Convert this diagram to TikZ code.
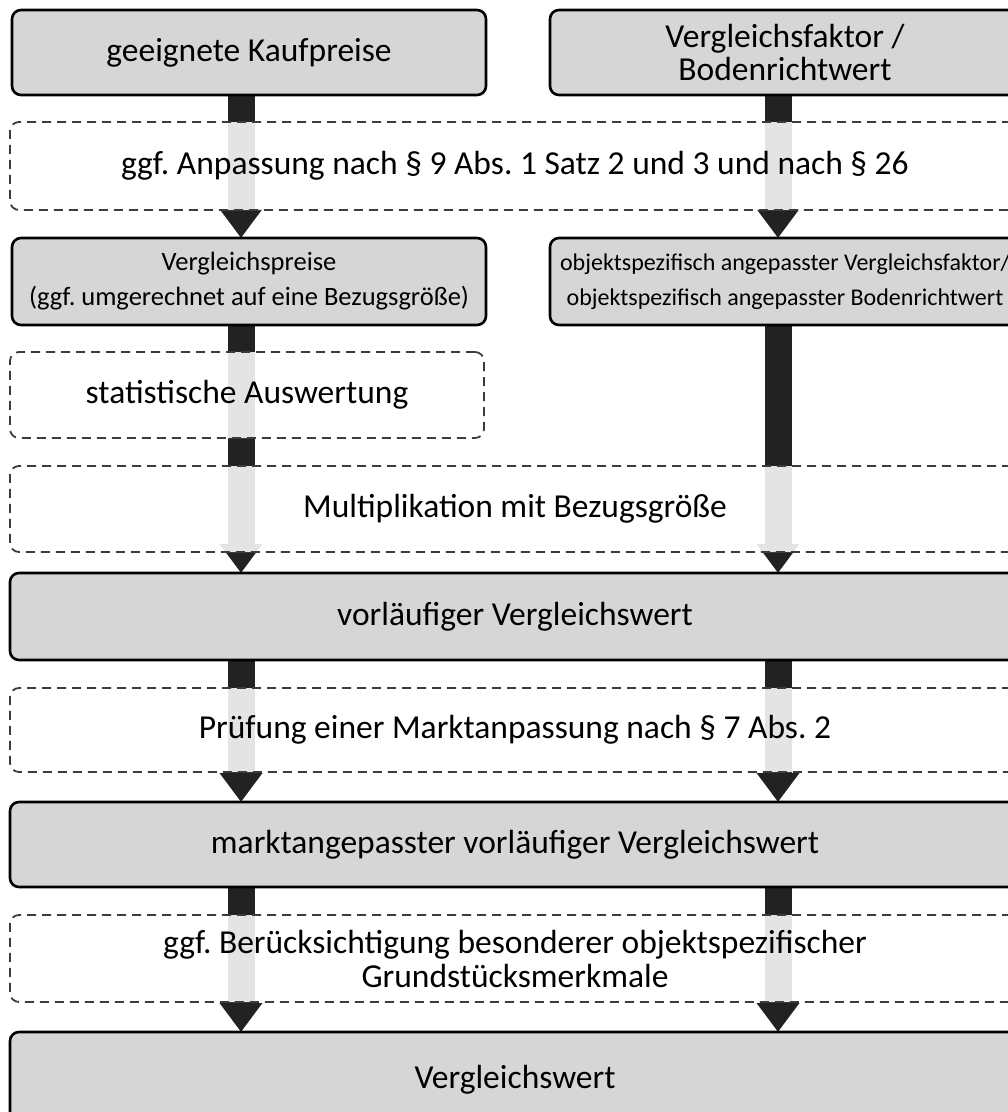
\documentclass[tikz,border=0pt]{standalone}
\usepackage{fontspec}
\setmainfont{Carlito}
\usetikzlibrary{positioning,arrows.meta,backgrounds}
\definecolor{boxgray}{RGB}{214,214,214}
\definecolor{dashgray}{RGB}{60,60,60}
\definecolor{arrowblack}{RGB}{34,34,34}
\frenchspacing

\begin{document}
\begin{tikzpicture}[x=1pt, y=-1pt,
    box/.style = {draw, line width=2.6pt, rounded corners=9pt, fill=boxgray, align=center,
                  inner sep=0pt, outer sep=0pt, minimum height=86pt, font=\fontsize{33.5}{33}\selectfont},
    opt/.style = {draw=dashgray, line width=1.8pt, dash pattern=on 9pt off 6pt, rounded corners=9pt,
                  fill=white, fill opacity=0.88, text opacity=1, align=center, inner sep=0pt,
                  outer sep=0pt, minimum height=86pt, font=\fontsize{33.5}{34}\selectfont},
    half/.style = {minimum width=474pt},
    halfr/.style = {minimum width=470pt},
    full/.style = {minimum width=1010pt},
    flow/.style = {draw=arrowblack, line width=27pt, -{Triangle[width=41pt, length=29pt]}}]
\clip (0,0) rectangle (1008,1112);
\useasboundingbox (0,0) rectangle (1008,1112);
\coordinate (lx) at (241,0);
\coordinate (rx) at (778,0);
% top row
\node[box, half, minimum height=85pt, anchor=north west] (kp) at (12,10) {geeignete Kaufpreise};
\node[box, halfr, minimum height=85pt, right=64pt of kp] (vf) {Vergleichsfaktor /\\Bodenrichtwert};
\node[opt, full, minimum height=88pt, below=27pt of kp.south west, anchor=north west, xshift=-2pt] (anp)
    {ggf. Anpassung nach § 9 Abs. 1 Satz 2 und 3 und nach § 26};
% second row
\node[box, half, minimum height=87pt, below=28pt of anp.south west, anchor=north west, xshift=2pt,
    font=\fontsize{26.5}{35}\selectfont] (vp) {Vergleichspreise\\(ggf. umgerechnet auf eine Bezugsgröße)};
\node[box, halfr, minimum height=87pt, right=64pt of vp, font=\fontsize{24}{35}\selectfont] (ovf)
    {objektspezifisch angepasster Vergleichsfaktor/\\objektspezifisch angepasster Bodenrichtwert};
\node[opt, half, below=27pt of vp.south west, anchor=north west, xshift=-2pt] (stat) {statistische Auswertung};
\node[opt, full, below=28pt of stat.south west, anchor=north west] (mult) {Multiplikation mit Bezugsgröße};
% results
\node[box, full, minimum height=87pt, below=21pt of mult.south west, anchor=north west] (vvw) {vorläufiger Vergleichswert};
\node[opt, full, minimum height=84pt, below=28pt of vvw.south west, anchor=north west] (pm)
    {Prüfung einer Marktanpassung nach § 7 Abs. 2};
\node[box, full, minimum height=85pt, below=30pt of pm.south west, anchor=north west] (mvw)
    {marktangepasster vorläufiger Vergleichswert};
\node[opt, full, minimum height=87pt, below=28pt of mvw.south west, anchor=north west] (bes)
    {ggf. Berücksichtigung besonderer objektspezifischer\\Grundstücksmerkmale};
\node[box, full, minimum height=95pt, below=30pt of bes.south west, anchor=north west] (vw) {Vergleichswert};
% arrows
\begin{pgfonlayer}{background}
\draw[flow] (kp.south -| lx) -- (vp.north -| lx);
\draw[flow] (vf.south -| rx) -- (ovf.north -| rx);
\draw[flow] (vp.south -| lx) -- (vvw.north -| lx);
\draw[flow] (ovf.south -| rx) -- (vvw.north -| rx);
\draw[flow] (vvw.south -| lx) -- (mvw.north -| lx);
\draw[flow] (vvw.south -| rx) -- (mvw.north -| rx);
\draw[flow] (mvw.south -| lx) -- (vw.north -| lx);
\draw[flow] (mvw.south -| rx) -- (vw.north -| rx);
\end{pgfonlayer}
\end{tikzpicture}
\end{document}
